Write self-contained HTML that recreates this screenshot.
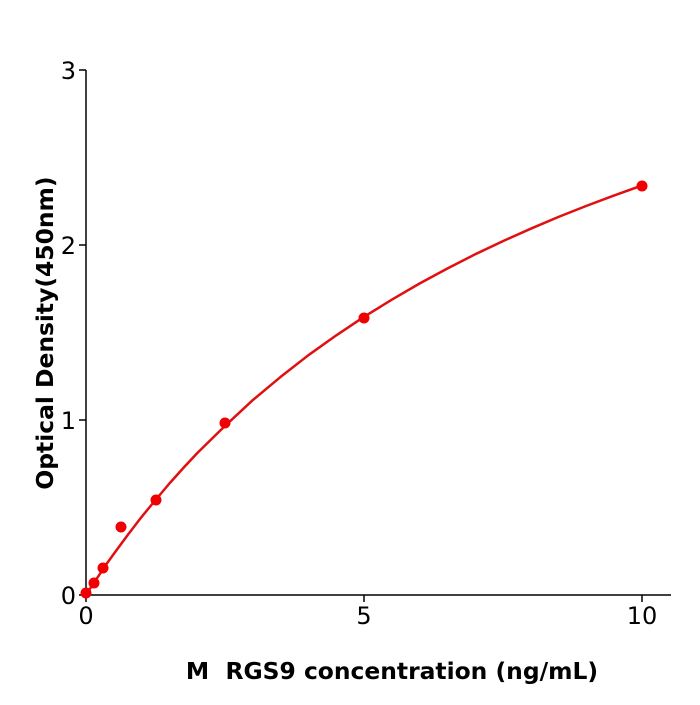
<!DOCTYPE html>
<html><head><meta charset="utf-8"><style>html,body{margin:0;padding:0;background:#fff}</style></head>
<body>
<svg width="700" height="700" xmlns="http://www.w3.org/2000/svg" font-family="'DejaVu Sans',sans-serif">
<rect width="700" height="700" fill="#fff"/>
<g stroke="#000" stroke-width="1.5" fill="none">
<line x1="86" y1="70" x2="86" y2="596"/>
<line x1="85" y1="595" x2="671" y2="595"/>
<line x1="79" y1="595" x2="86" y2="595"/>
<line x1="79" y1="420" x2="86" y2="420"/>
<line x1="79" y1="245" x2="86" y2="245"/>
<line x1="79" y1="70" x2="86" y2="70"/>
<line x1="86" y1="595" x2="86" y2="602"/>
<line x1="364" y1="595" x2="364" y2="602"/>
<line x1="642" y1="595" x2="642" y2="602"/>
</g>
<g font-size="24" fill="#000">
<text x="76" y="604" text-anchor="end">0</text>
<text x="76" y="429" text-anchor="end">1</text>
<text x="76" y="254" text-anchor="end">2</text>
<text x="76" y="79" text-anchor="end">3</text>
<text x="86" y="624" text-anchor="middle">0</text>
<text x="364" y="624" text-anchor="middle">5</text>
<text x="642" y="624" text-anchor="middle">10</text>
</g>
<text x="392" y="679" font-size="23.4" font-weight="bold" text-anchor="middle">M&#160; RGS9 concentration (ng/mL)</text>
<text transform="translate(53,333) rotate(-90)" font-size="23.4" font-weight="bold" text-anchor="middle">Optical Density(450nm)</text>
<polyline fill="none" stroke="#e01010" stroke-width="2.5" stroke-linejoin="round" points="86,595 92.9,584.2 99.9,573.9 106.8,563.6 113.8,553.9 127.7,535 141.6,516.9 155.5,500 169.4,483.5 183.3,468 197.2,453.1 225,425.9 252.8,400.1 280.6,376.9 308.4,355.2 336.2,335.4 364,316.8 391.8,299.7 419.6,283.5 447.4,268.5 475.2,254.3 503,241.1 530.8,228.7 558.6,216.9 586.4,205.9 614.2,195.4 642,185.5"/>
<g fill="#f00000">
<circle cx="86" cy="593" r="5.5"/>
<circle cx="94" cy="583" r="5.5"/>
<circle cx="103" cy="568" r="5.5"/>
<circle cx="121" cy="527" r="5.5"/>
<circle cx="156" cy="500" r="5.5"/>
<circle cx="225" cy="423" r="5.5"/>
<circle cx="364" cy="318" r="5.5"/>
<circle cx="642" cy="186" r="5.5"/>
</g>
</svg>
</body></html>
